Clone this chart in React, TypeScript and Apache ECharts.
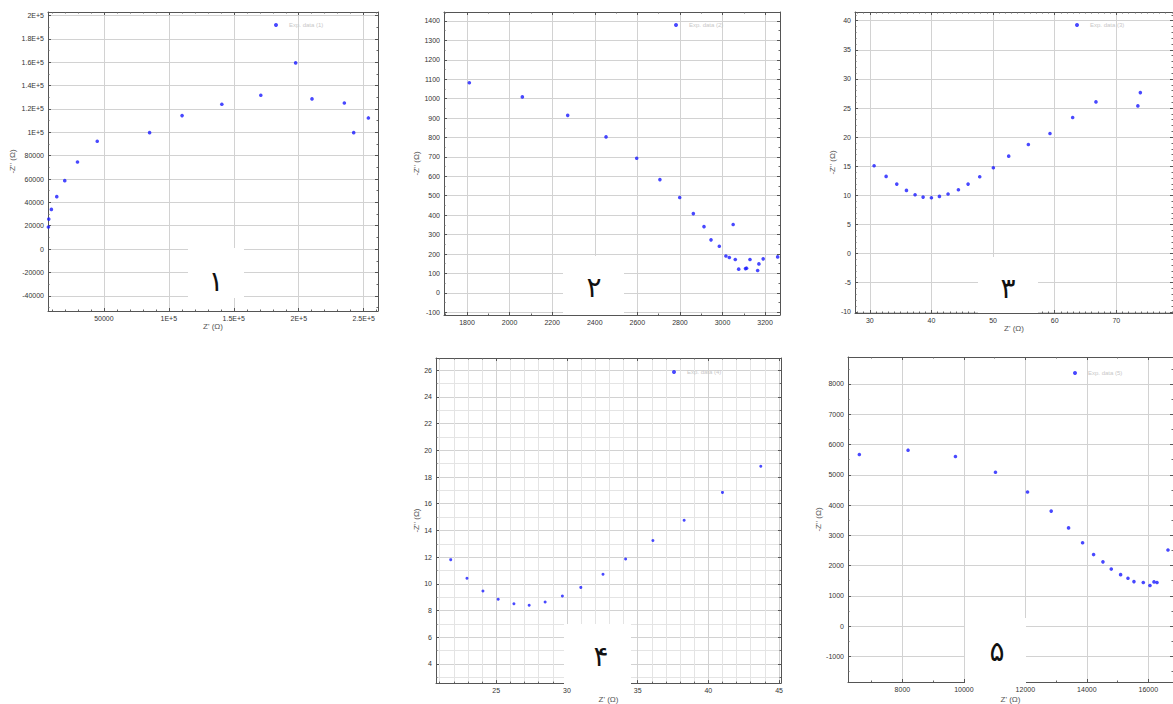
import React, { useEffect, useRef } from 'react';
import * as echarts from 'echarts';

// Panel 1 (Z' , -Z'')
const zRe1 = [7300, 7600, 9600, 13750, 19900, 29700, 44900, 85200, 110200, 140800, 170800, 197600, 210200, 235100, 242300, 253600];
const zIm1 = [18900, 25700, 34000, 44900, 58600, 74600, 92300, 99700, 114300, 124000, 131700, 159400, 128600, 125100, 99700, 112300];
// Panel 2
const zRe2 = [1811, 2060, 2273, 2453, 2597, 2706, 2799, 2863, 2913, 2946, 2985, 3016, 3050, 3032, 3060, 3076, 3108, 3113, 3129, 3165, 3171, 3191, 3259];
const zIm2 = [1082, 1009, 914, 803, 693, 583, 491, 408, 341, 273, 240, 190, 352, 182, 172, 122, 125, 127, 172, 115, 149, 175, 185];
// Panel 3
const zRe3 = [30.7, 32.65, 34.38, 35.95, 37.35, 38.65, 40.0, 41.3, 42.7, 44.38, 45.95, 47.84, 50.05, 52.54, 55.73, 59.24, 62.92, 66.7, 73.5, 73.9];
const zIm3 = [15.09, 13.26, 11.94, 10.86, 10.11, 9.71, 9.6, 9.83, 10.23, 10.97, 11.94, 13.2, 14.74, 16.74, 18.74, 20.63, 23.37, 26.06, 25.37, 27.66];
// Panel 4
const zRe4 = [21.78, 22.93, 24.06, 25.14, 26.25, 27.33, 28.46, 29.68, 30.98, 32.55, 34.15, 36.08, 38.29, 41.0, 43.71];
const zIm4 = [11.81, 10.42, 9.46, 8.84, 8.51, 8.39, 8.64, 9.09, 9.73, 10.72, 11.86, 13.25, 14.76, 16.85, 18.81];
// Panel 5
const zRe5 = [6600, 8185, 9726, 11028, 12071, 12841, 13406, 13862, 14220, 14524, 14795, 15099, 15338, 15533, 15837, 16054, 16185, 16282, 16640];
const zIm5 = [5671, 5812, 5605, 5083, 4430, 3799, 3243, 2754, 2362, 2122, 1883, 1698, 1578, 1469, 1437, 1339, 1458, 1437, 2514];

const panelDigits = ['۱', '۲', '۳', '۴', '۵'];
const seriesNames = ['Exp. data (1)', 'Exp. data (2)', 'Exp. data (3)', 'Exp. data (4)', 'Exp. data (5)'];
const xName = "Z' (Ω)";
const yName = "-Z'' (Ω)";

const grids = [
  { left: 48, top: 12, width: 330, height: 299 },
  { left: 444, top: 12, width: 336, height: 303 },
  { left: 855, top: 12, width: 318, height: 301 },
  { left: 436, top: 358, width: 345, height: 327 },
  { left: 848, top: 357, width: 325, height: 329 },
];

const xRanges = [
  { min: 7000, max: 261000, sn: 5, minor: 5 },
  { min: 1692, max: 3270, sn: 8, minor: 2 },
  { min: 27.6, max: 79.2, sn: 5, minor: 10 },
  { min: 20.74, max: 45.14, sn: 5, minor: 5 },
  { min: 6231, max: 16803, sn: 5, minor: 2 },
];
const yRanges = [
  { min: -53000, max: 203000, sn: 12, minor: 2 },
  { min: -114, max: 1446, sn: 15, minor: 2 },
  { min: -10.2, max: 41.5, sn: 10, minor: 5 },
  { min: 2.56, max: 26.92, sn: 12, minor: 2 },
  { min: -1850, max: 8892, sn: 10, minor: 2 },
];
const xNameGaps = [8, 0, 11, 11, 13];
const yNameGaps = [32, 22, 14, 11, 24];
const legendPos = [
  { left: 274, top: 22 },
  { left: 674, top: 22 },
  { left: 1075, top: 22 },
  { left: 672, top: 369 },
  { left: 1073, top: 370 },
];
const boxes = [
  { x: 188, y: 248, w: 56, h: 50, tx: 216, ty: 281 },
  { x: 563, y: 256, w: 61, h: 59, tx: 594, ty: 287 },
  { x: 978, y: 257, w: 60, h: 56, tx: 1008, ty: 288 },
  { x: 564, y: 624, w: 67, h: 61, tx: 601, ty: 656 },
  { x: 965, y: 618, w: 61, h: 68, tx: 997, ty: 651 },
];

const sci = (v: number) =>
  Math.abs(v) >= 100000 ? `${+(v / 100000).toFixed(2)}E+5` : `${+v.toFixed(4)}`;
const plain = (v: number) => `${+v.toFixed(4)}`;

const FONT = 'Liberation Sans';

export default function App() {
  const ref = useRef<HTMLDivElement>(null);
  useEffect(() => {
    if (!ref.current) return;
    const chart = echarts.init(ref.current, undefined, { renderer: 'svg' });
    const datasets = [
      [zRe1, zIm1], [zRe2, zIm2], [zRe3, zIm3], [zRe4, zIm4], [zRe5, zIm5],
    ];
    const gridLine = { show: true, lineStyle: { color: '#d2d2d2', width: 1 } };
    const minorLine = { show: true, lineStyle: { color: '#e4e4e4', width: 1 } };
    const labelStyle = { fontSize: 7, color: '#333', fontFamily: FONT, margin: 4, showMinLabel: false, showMaxLabel: false };

    const xAxes: any[] = [];
    const yAxes: any[] = [];
    for (let i = 0; i < 5; i++) {
      const xr = xRanges[i];
      const yr = yRanges[i];
      xAxes.push({
        type: 'value', gridIndex: i, min: xr.min, max: xr.max, splitNumber: xr.sn,
        name: i === 1 ? '' : xName, nameLocation: 'middle', nameGap: xNameGaps[i],
        nameTextStyle: { fontSize: 8, color: '#555', fontFamily: FONT },
        axisLine: { show: true, onZero: false, lineStyle: { color: '#555', width: 1 } },
        axisTick: { show: true, inside: true, length: 3, lineStyle: { color: '#555' } },
        minorTick: { show: true, splitNumber: xr.minor, length: 1.5, lineStyle: { color: '#666' } },
        splitLine: gridLine,
        minorSplitLine: i === 3 ? minorLine : { show: false },
        axisLabel: { ...labelStyle, formatter: i === 0 ? sci : plain },
      });
      yAxes.push({
        type: 'value', gridIndex: i, min: yr.min, max: yr.max, splitNumber: yr.sn,
        name: yName, nameLocation: 'middle', nameGap: yNameGaps[i],
        nameTextStyle: { fontSize: 8, color: '#555', fontFamily: FONT },
        axisLine: { show: true, onZero: false, lineStyle: { color: '#555', width: 1 } },
        axisTick: { show: true, inside: true, length: 3, lineStyle: { color: '#555' } },
        minorTick: { show: true, splitNumber: yr.minor, length: 1.5, lineStyle: { color: '#666' } },
        splitLine: gridLine,
        minorSplitLine: i === 3 ? minorLine : { show: false },
        axisLabel: { ...labelStyle, formatter: i === 0 ? sci : plain },
      });
    }
    for (let i = 0; i < 5; i++) {
      const xr = xRanges[i];
      const yr = yRanges[i];
      xAxes.push({
        type: 'value', gridIndex: i, position: 'top', min: xr.min, max: xr.max, splitNumber: xr.sn,
        axisLine: { show: true, onZero: false, lineStyle: { color: '#555', width: 1 } },
        axisTick: { show: true, inside: true, length: 3, lineStyle: { color: '#555' } },
        minorTick: { show: true, splitNumber: xr.minor, length: 1.5, lineStyle: { color: '#666' } },
        splitLine: { show: false },
        axisLabel: { show: false },
      });
      yAxes.push({
        type: 'value', gridIndex: i, position: 'right', min: yr.min, max: yr.max, splitNumber: yr.sn,
        axisLine: { show: true, onZero: false, lineStyle: { color: '#555', width: 1 } },
        axisTick: { show: true, inside: true, length: 3, lineStyle: { color: '#555' } },
        minorTick: { show: true, splitNumber: yr.minor, length: 1.5, lineStyle: { color: '#666' } },
        splitLine: { show: false },
        axisLabel: { show: false },
      });
    }

    const series = datasets.map(([xs, ys], i) => ({
      type: 'scatter',
      name: seriesNames[i],
      xAxisIndex: i,
      yAxisIndex: i,
      symbol: 'circle',
      symbolSize: i === 3 ? 3 : 3.6,
      itemStyle: { color: '#1a1aff' },
      data: xs.map((x, k) => [x, ys[k]]),
      clip: true,
    }));

    const legend = seriesNames.map((n, i) => ({
      data: [n],
      left: legendPos[i].left,
      top: legendPos[i].top,
      orient: 'horizontal',
      padding: 0,
      icon: 'circle',
      itemWidth: 4,
      itemHeight: 4,
      itemGap: 4,
      selectedMode: false,
      textStyle: { fontSize: 6, color: '#c8c8c8', fontFamily: FONT, padding: [0, 0, 0, 6] },
    }));

    const graphic: any[] = [];
    boxes.forEach((b, i) => {
      graphic.push({
        type: 'rect', z: 100, shape: { x: b.x, y: b.y, width: b.w, height: b.h },
        style: { fill: '#ffffff' },
      });
      graphic.push({
        type: 'text', z: 101, x: b.tx, y: b.ty,
        style: {
          text: panelDigits[i], fontSize: 28, fontFamily: 'DejaVu Sans', fill: '#111',
          align: 'center', verticalAlign: 'middle',
        },
      });
    });

    chart.setOption({
      animation: false,
      backgroundColor: '#ffffff',
      grid: grids.map((g) => ({ ...g, show: false, containLabel: false })),
      xAxis: xAxes,
      yAxis: yAxes,
      series,
      legend,
      graphic,
    });
    return () => chart.dispose();
  }, []);
  return (
    <div
      ref={ref}
      style={{ position: 'fixed', left: 0, top: 0, width: 1173, height: 704, background: '#fff' }}
    />
  );
}
